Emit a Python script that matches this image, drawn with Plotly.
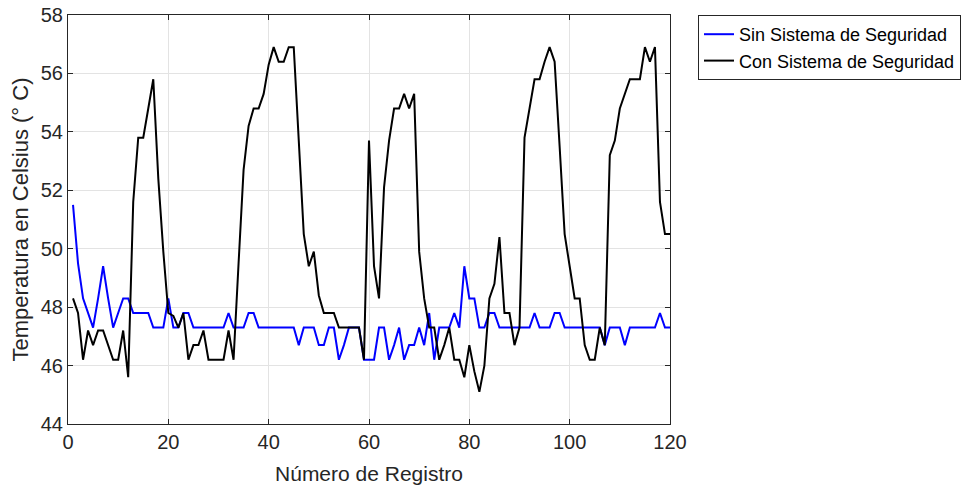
import plotly.graph_objects as go

registro = list(range(1, 121))

sin_sistema = [
    51.5, 49.5, 48.3, 47.8, 47.3, 48.3, 49.4, 48.3, 47.3, 47.8,
    48.3, 48.3, 47.8, 47.8, 47.8, 47.8, 47.3, 47.3, 47.3, 48.3,
    47.3, 47.3, 47.8, 47.8, 47.3, 47.3, 47.3, 47.3, 47.3, 47.3,
    47.3, 47.8, 47.3, 47.3, 47.3, 47.8, 47.8, 47.3, 47.3, 47.3,
    47.3, 47.3, 47.3, 47.3, 47.3, 46.7, 47.3, 47.3, 47.3, 46.7,
    46.7, 47.3, 47.3, 46.2, 46.7, 47.3, 47.3, 47.3, 46.2, 46.2,
    46.2, 47.3, 47.3, 46.2, 46.7, 47.3, 46.2, 46.7, 46.7, 47.3,
    46.7, 47.8, 46.2, 47.3, 47.3, 47.3, 47.8, 47.3, 49.4, 48.3,
    48.3, 47.3, 47.3, 47.8, 47.8, 47.3, 47.3, 47.3, 47.3, 47.3,
    47.3, 47.3, 47.8, 47.3, 47.3, 47.3, 47.8, 47.8, 47.3, 47.3,
    47.3, 47.3, 47.3, 47.3, 47.3, 47.3, 46.7, 47.3, 47.3, 47.3,
    46.7, 47.3, 47.3, 47.3, 47.3, 47.3, 47.3, 47.8, 47.3, 47.3,
]

con_sistema = [
    48.3, 47.8, 46.2, 47.2, 46.7, 47.2, 47.2, 46.7, 46.2, 46.2,
    47.2, 45.6, 51.6, 53.8, 53.8, 54.8, 55.8, 52.4, 49.9, 47.8,
    47.7, 47.3, 47.8, 46.2, 46.7, 46.7, 47.2, 46.2, 46.2, 46.2,
    46.2, 47.2, 46.2, 49.5, 52.7, 54.2, 54.8, 54.8, 55.3, 56.3,
    56.9, 56.4, 56.4, 56.9, 56.9, 53.7, 50.5, 49.4, 49.9, 48.4,
    47.8, 47.8, 47.8, 47.3, 47.3, 47.3, 47.3, 47.3, 46.2, 53.7,
    49.4, 48.3, 52.1, 53.7, 54.8, 54.8, 55.3, 54.8, 55.3, 49.9,
    48.3, 47.3, 47.3, 46.2, 46.7, 47.3, 46.2, 46.2, 45.6, 46.7,
    45.8, 45.1, 46.0, 48.3, 48.8, 50.4, 47.8, 47.8, 46.7, 47.3,
    53.8, 54.8, 55.8, 55.8, 56.4, 56.9, 56.4, 53.5, 50.5, 49.4,
    48.3, 48.3, 46.7, 46.2, 46.2, 47.3, 46.7, 53.2, 53.7, 54.8,
    55.3, 55.8, 55.8, 55.8, 56.9, 56.4, 56.9, 51.6, 50.5, 50.5,
]

x_ticks = [0, 20, 40, 60, 80, 100, 120]
y_ticks = [44, 46, 48, 50, 52, 54, 56, 58]

FONT = "Liberation Sans, Arial, sans-serif"
AX = "#262626"

fig = go.Figure()
fig.add_trace(go.Scatter(x=registro, y=sin_sistema, mode="lines",
                         name="Sin Sistema de Seguridad",
                         line=dict(color="#0000ff", width=2)))
fig.add_trace(go.Scatter(x=registro, y=con_sistema, mode="lines",
                         name="Con Sistema de Seguridad",
                         line=dict(color="#000000", width=2)))

axis_common = dict(
    showline=True, linecolor=AX, linewidth=1, mirror="ticks",
    ticks="inside", ticklen=5, tickcolor=AX, tickwidth=1,
    showgrid=True, gridcolor="#e3e3e3", gridwidth=1,
    zeroline=False,
    tickfont=dict(family=FONT, size=20, color=AX),
)

fig.update_layout(
    width=965, height=487,
    margin=dict(l=68, r=295, t=15, b=63, autoexpand=False),
    paper_bgcolor="white", plot_bgcolor="white",
    font=dict(family=FONT, color=AX),
    xaxis=dict(range=[0, 120], tickvals=x_ticks,
               title=dict(text="Número de Registro", font=dict(family=FONT, size=21, color=AX), standoff=14),
               **axis_common),
    yaxis=dict(range=[44, 58], tickvals=y_ticks,
               title=dict(text="Temperatura en Celsius (° C)", font=dict(family=FONT, size=22, color=AX), standoff=6),
               **axis_common),
    legend=dict(x=1.0465, y=1.0, xanchor="left", yanchor="top",
                bordercolor=AX, borderwidth=1, bgcolor="white",
                font=dict(family=FONT, size=18, color="#000000"),
                itemwidth=30, tracegroupgap=0),
    showlegend=True,
)

# remove the browser's default 8px page margin so the figure fills the window
fig.write_html("out.html", config={"displayModeBar": False},
               post_script="document.body.style.margin='0px';")
